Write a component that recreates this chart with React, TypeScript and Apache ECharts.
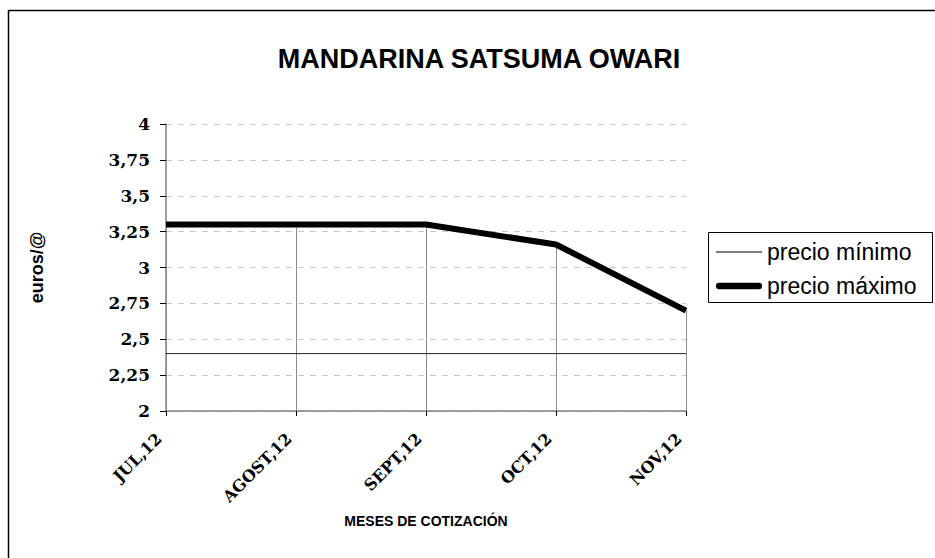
import React, { useEffect, useRef } from "react";
import * as echarts from "echarts";

const categories = ["JUL,12", "AGOST,12", "SEPT,12", "OCT,12", "NOV,12"];
const precioMinimo = [2.4, 2.4, 2.4, 2.4, 2.4];
const precioMaximo = [3.3, 3.3, 3.3, 3.16, 2.7];
const yMin = 2;
const yMax = 4;
const yStep = 0.25;
const titleText = "MANDARINA SATSUMA OWARI";
const yName = "euros/@";
const xName = "MESES DE COTIZACIÓN";
const seriesNames = ["precio mínimo", "precio máximo"];

export default function App() {
  const ref = useRef<HTMLDivElement>(null);
  useEffect(() => {
    if (!ref.current) return;
    const chart = echarts.init(ref.current, null, { renderer: "svg" });
    const dropLines = precioMaximo.map((v, i) => [
      { coord: [i, v] },
      { coord: [i, yMin] },
    ]);
    chart.setOption({
      animation: false,
      backgroundColor: "#fff",
      title: {
        text: titleText,
        left: 474,
        textAlign: "center",
        top: 40,
        textStyle: {
          fontFamily: "Liberation Sans, Arial, sans-serif",
          fontWeight: "bold",
          fontSize: 27,
          color: "#000",
        },
      },
      graphic: [
        {
          type: "rect",
          shape: { x: 8.5, y: 10.5, width: 1000, height: 1000 },
          style: { fill: "none", stroke: "#000", lineWidth: 1.5 },
          z: 0,
        },
        {
          type: "rect",
          shape: { x: 708.5, y: 232.5, width: 224, height: 70 },
          style: { fill: "none", stroke: "#000", lineWidth: 1 },
          z: 0,
        },
      ],
      legend: {
        orient: "vertical",
        left: 716,
        top: 240,
        padding: 0,
        itemWidth: 46,
        itemHeight: 14,
        itemGap: 10,
        symbolKeepAspect: true,
        data: [
          {
            name: seriesNames[0],
            icon: "path://M0,0H46V1H0Z",
            itemStyle: { color: "#000" },
          },
          {
            name: seriesNames[1],
            icon: "path://M3.5,0H46.5A3.5,3.5,0,0,1,46.5,7H3.5A3.5,3.5,0,0,1,3.5,0Z",
            itemStyle: { color: "#000" },
          },
        ],
        textStyle: {
          fontFamily: "Liberation Sans, Arial, sans-serif",
          fontSize: 23,
          lineHeight: 24,
          color: "#000",
        },
      },
      grid: { left: 166, right: 249, top: 124, bottom: 147, containLabel: false },
      xAxis: {
        type: "category",
        data: categories,
        boundaryGap: false,
        name: xName,
        nameLocation: "middle",
        nameGap: 103,
        nameMoveOverlap: false,
        nameTextStyle: {
          fontFamily: "Liberation Sans, Arial, sans-serif",
          fontWeight: "bold",
          fontSize: 14,
          color: "#000",
        },
        axisLine: { lineStyle: { color: "#808080", width: 1.5 } },
        axisTick: { show: true, length: 5, lineStyle: { color: "#000" } },
        axisLabel: {
          rotate: 45,
          margin: 18,
          padding: [0, 10, 0, 0],
          fontFamily: "DejaVu Serif, serif",
          fontWeight: "bold",
          fontSize: 16,
          color: "#000",
        },
        splitLine: { show: false },
      },
      yAxis: {
        type: "value",
        min: yMin,
        max: yMax,
        interval: yStep,
        name: yName,
        nameLocation: "middle",
        nameGap: 120,
        nameMoveOverlap: false,
        nameTextStyle: {
          fontFamily: "Liberation Sans, Arial, sans-serif",
          fontWeight: "bold",
          fontSize: 18,
          color: "#000",
        },
        axisLine: { show: true, lineStyle: { color: "#808080", width: 1.5 } },
        axisTick: { show: true, length: 6, lineStyle: { color: "#000" } },
        axisLabel: {
          margin: 16,
          fontFamily: "DejaVu Serif, serif",
          fontWeight: "bold",
          fontSize: 17,
          color: "#000",
          formatter: (v: number) => String(v).replace(".", ","),
        },
        splitLine: {
          show: true,
          lineStyle: { color: "#c8c8c8", type: [6, 6], width: 1 },
        },
      },
      series: [
        {
          name: seriesNames[0],
          type: "line",
          data: precioMinimo,
          symbol: "none",
          lineStyle: { color: "#222", width: 1 },
          itemStyle: { color: "#000" },
          z: 3,
        },
        {
          name: seriesNames[1],
          type: "line",
          data: precioMaximo,
          symbol: "none",
          lineStyle: { color: "#000", width: 6 },
          itemStyle: { color: "#000" },
          z: 4,
          markLine: {
            silent: true,
            symbol: "none",
            label: { show: false },
            lineStyle: { color: "#8c8c8c", type: "solid", width: 1 },
            data: dropLines,
            z: 1,
          },
        },
      ],
    });
    return () => chart.dispose();
  }, []);
  return (
    <div
      ref={ref}
      style={{ position: "fixed", left: 0, top: 0, width: 935, height: 558 }}
    />
  );
}
